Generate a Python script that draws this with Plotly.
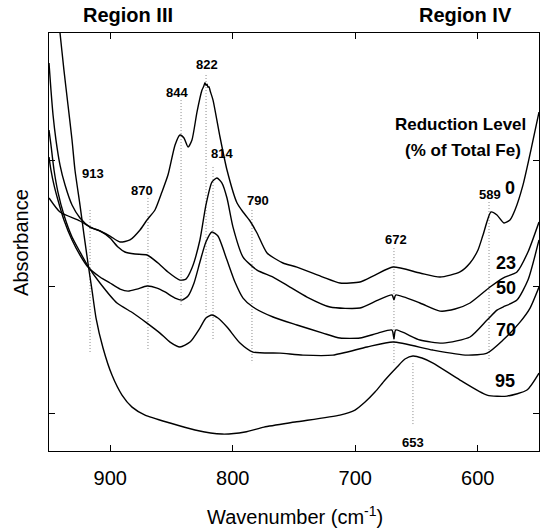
import plotly.graph_objects as go

# ---- data (wavenumber cm-1, absorbance arbitrary units) ----
wn_0 = [950, 941.0, 924.7, 916.5, 908.4, 900.2, 892.0, 883.9, 875.7, 870, 863.5, 857.8, 852.9, 847.1, 843.1,
        839.8, 836.5, 833.3, 829.2, 825.1, 823.6, 822.7, 821.8, 821.0, 820.2, 819.4, 818.4, 816.1, 810.4, 804.7,
        796.5, 791.6, 785.9, 780.2, 772.0, 759.0, 747.6, 726.4, 712.5, 696.1, 683.9, 669.2, 647.2,
        630.8, 614.5, 606.3, 599.8, 595.7, 589.2, 584.3, 578.6, 573.7, 569.6, 563.1, 555.7, 550]
abs_0 = [1.700, 1.589, 1.518, 1.470, 1.439, 1.399, 1.352, 1.368, 1.447, 1.526, 1.605, 1.747, 1.881, 2.119, 2.198,
         2.174, 2.103, 2.158, 2.379, 2.553, 2.585, 2.612, 2.590, 2.600, 2.575, 2.580, 2.545, 2.474, 2.182, 1.921,
         1.660, 1.589, 1.518, 1.423, 1.265, 1.186, 1.154, 1.075, 1.028, 1.036, 1.091, 1.154, 1.107,
         1.075, 1.115, 1.186, 1.289, 1.407, 1.589, 1.565, 1.502, 1.526, 1.605, 1.802, 2.119, 2.379]

wn_23 = [950, 948.4, 946.7, 944.3, 941.0, 936.9, 931.2, 924.7, 916.5, 908.4, 900.2, 893.7, 888.0, 879.8, 870,
         861.0, 852.9, 843.1, 838.2, 833.3, 826.8, 821.9, 817.0, 812.9, 808.8, 804.7, 799.8, 791.6, 780.2, 767.1,
         753.3, 739.4, 720.6, 696.1, 681.4, 670.0, 668.4, 667.0, 647.2, 630.8, 618.6, 606.3, 590.0, 579.4,
         568.0, 559.0, 550]
abs_23 = [2.767, 2.553, 2.356, 2.158, 1.960, 1.802, 1.644, 1.542, 1.470, 1.439, 1.383, 1.312, 1.273, 1.257, 1.249,
          1.186, 1.115, 1.051, 1.059, 1.146, 1.368, 1.644, 1.826, 1.858, 1.818, 1.700, 1.470, 1.233, 1.130, 1.075,
          0.996, 0.917, 0.838, 0.830, 0.893, 0.933, 0.895, 0.933, 0.870, 0.806, 0.822, 0.870, 0.996, 1.067,
          1.115, 1.273, 1.510]

wn_50 = [950, 948.4, 945.9, 942.7, 937.8, 931.2, 924.7, 918.2, 908.4, 900.2, 892.0, 885.5, 878.2, 870, 861.8,
         855.3, 847.1, 841.4, 836.5, 831.6, 826.8, 821.9, 817.0, 812.1, 804.7, 798.2, 791.6, 783.5, 767.1, 747.6,
         726.4, 712.5, 696.1, 681.4, 670.0, 668.4, 667.0, 647.2, 628.4, 606.3, 592.4, 584.3, 579.4, 568.0,
         559.0, 550]
abs_50 = [2.024, 1.921, 1.802, 1.684, 1.526, 1.368, 1.249, 1.154, 1.075, 1.028, 0.980, 0.964, 0.980, 1.004, 0.988,
          0.957, 0.909, 0.893, 0.925, 1.028, 1.194, 1.352, 1.431, 1.399, 1.209, 1.036, 0.909, 0.838, 0.759, 0.696,
          0.632, 0.593, 0.593, 0.632, 0.656, 0.585, 0.656, 0.577, 0.553, 0.601, 0.735, 0.814, 0.838, 0.893,
          1.051, 1.368]

wn_70 = [950, 948.4, 945.9, 942.7, 937.8, 931.2, 924.7, 918.2, 908.4, 894.5, 881.4, 870, 859.4, 851.2, 843.1,
         834.9, 826.8, 821.9, 817.0, 812.1, 804.7, 794.1, 783.5, 761.4, 742.7, 718.2, 690.4, 669.2, 636.7,
         608.8, 592.4, 579.4, 565.5, 557.3, 550]
abs_70 = [2.237, 2.119, 1.921, 1.747, 1.565, 1.391, 1.273, 1.162, 1.028, 0.870, 0.791, 0.711, 0.632, 0.561, 0.522,
          0.561, 0.672, 0.751, 0.775, 0.751, 0.680, 0.553, 0.482, 0.474, 0.458, 0.458, 0.522, 0.561, 0.498,
          0.458, 0.474, 0.577, 0.719, 0.830, 0.996]

wn_95 = [944.3, 941.0, 937.8, 934.5, 931.2, 928.8, 924.7, 921.4, 918.2, 914.9, 911.6, 905.9, 898.6, 890.4, 882.2,
         871.6, 851.2, 830.8, 808.8, 790.0, 774.5, 749.2, 712.5, 700.2, 692.0, 683.9, 675.7, 665.9, 659.4,
         652.9, 645.5, 636.5, 614.5, 592.4, 576.1, 559.8, 550]
abs_95 = [3.300, 3.004, 2.711, 2.435, 2.158, 1.921, 1.644, 1.407, 1.186, 0.972, 0.751, 0.514, 0.300, 0.142, 0.047,
          -0.016, -0.079, -0.134, -0.166, -0.150, -0.111, -0.071, -0.016, 0.024, 0.087, 0.166, 0.261, 0.364, 0.427,
          0.451, 0.435, 0.395, 0.261, 0.142, 0.134, 0.182, 0.316]

series = [("0", wn_0, abs_0), ("23", wn_23, abs_23), ("50", wn_50, abs_50),
          ("70", wn_70, abs_70), ("95", wn_95, abs_95)]

# curve labels (reduction level) and their anchor positions
curve_labels = ["0", "23", "50", "70", "95"]
curve_label_wn = [573.7, 576.9, 576.9, 576.9, 577.8]
curve_label_abs = [1.779, 1.186, 0.988, 0.656, 0.253]

# peak markers: label text, line position, line extent, label position
peak_labels = ["913", "870", "844", "822", "814", "790", "672", "589", "653"]
peak_line_wn = [916.5, 869.2, 842.2, 821.8, 816.1, 784.3, 668.4, 590.8, 652.9]
peak_line_top = [1.605, 1.700, 2.474, 2.672, 1.945, 1.605, 1.304, 1.668, 0.395]
peak_line_bot = [0.474, 0.498, 0.838, 0.791, 0.577, 0.395, 0.379, 0.419, -0.095]
peak_label_wn = [914.1, 874.1, 845.5, 821.0, 808.8, 779.4, 666.7, 590.0, 652.9]
peak_label_abs = [1.897, 1.763, 2.530, 2.759, 2.055, 1.684, 1.375, 1.731, -0.229]

x_ticks = [900, 800, 700, 600]
y_ticks = [0, 1, 2]

FONT = "Liberation Sans, Arial, sans-serif"

fig = go.Figure()

for wl, ws, ab in zip(peak_labels, peak_line_wn, zip(peak_line_top, peak_line_bot)):
    fig.add_trace(go.Scatter(x=[ws, ws], y=list(ab), mode="lines",
                             line=dict(color="#8a8a8a", width=1, dash="1px,2px"),
                             hoverinfo="skip", showlegend=False))

for name, x, y in series:
    fig.add_trace(go.Scatter(x=x, y=y, mode="lines", name=name,
                             line=dict(color="black", width=1.4, shape="spline", smoothing=0.6),
                             showlegend=False))

ann = []
for t, x, y in zip(peak_labels, peak_label_wn, peak_label_abs):
    ann.append(dict(x=x, y=y, xref="x", yref="y", text=t, showarrow=False,
                    xanchor="center", yanchor="middle",
                    font=dict(family=FONT, size=13, color="black", weight="bold")))
for t, x, y in zip(curve_labels, curve_label_wn, curve_label_abs):
    ann.append(dict(x=x, y=y, xref="x", yref="y", text=t, showarrow=False,
                    xanchor="center", yanchor="middle",
                    font=dict(family=FONT, size=18, color="black", weight="bold")))

ann.append(dict(x=614.0, y=2.277, xref="x", yref="y", text="Reduction Level", showarrow=False,
                xanchor="center", yanchor="middle",
                font=dict(family=FONT, size=17, color="black", weight="bold")))
ann.append(dict(x=612.0, y=2.079, xref="x", yref="y", text="(% of Total Fe)", showarrow=False,
                xanchor="center", yanchor="middle",
                font=dict(family=FONT, size=17, color="black", weight="bold")))
ann.append(dict(x=0.162, y=1.044, xref="paper", yref="paper", text="Region III", showarrow=False,
                xanchor="center", yanchor="middle",
                font=dict(family=FONT, size=20, color="black", weight="bold")))
ann.append(dict(x=0.849, y=1.044, xref="paper", yref="paper", text="Region IV", showarrow=False,
                xanchor="center", yanchor="middle",
                font=dict(family=FONT, size=20, color="black", weight="bold")))
ann.append(dict(x=-0.057, y=0.498, xref="paper", yref="paper", text="Absorbance", showarrow=False,
                xanchor="center", yanchor="middle",
                textangle=-90, font=dict(family=FONT, size=20, color="black")))
ann.append(dict(x=0.502, y=-0.155, xref="paper", yref="paper", text="Wavenumber (cm<sup>-1</sup>)",
                xanchor="center", yanchor="middle",
                showarrow=False, font=dict(family=FONT, size=20, color="black")))

fig.update_layout(
    width=543, height=528,
    margin=dict(l=49, r=4, t=33, b=77),
    paper_bgcolor="white", plot_bgcolor="white",
    annotations=ann,
    font=dict(family=FONT, color="black"),
)
fig.update_xaxes(range=[950, 550], tickvals=x_ticks, ticks="inside", ticklen=6, tickcolor="black",
                 showline=True, linecolor="black", linewidth=1, mirror="ticks", showgrid=False,
                 zeroline=False, tickfont=dict(family=FONT, size=20, color="black"), ticklabelstandoff=9)
fig.update_yaxes(range=[-0.300, 3.004], tickvals=y_ticks, ticks="inside", ticklen=6, tickcolor="black",
                 showticklabels=False, showline=True, linecolor="black", linewidth=1, mirror="ticks",
                 showgrid=False, zeroline=False)

fig.write_html("out.html")
